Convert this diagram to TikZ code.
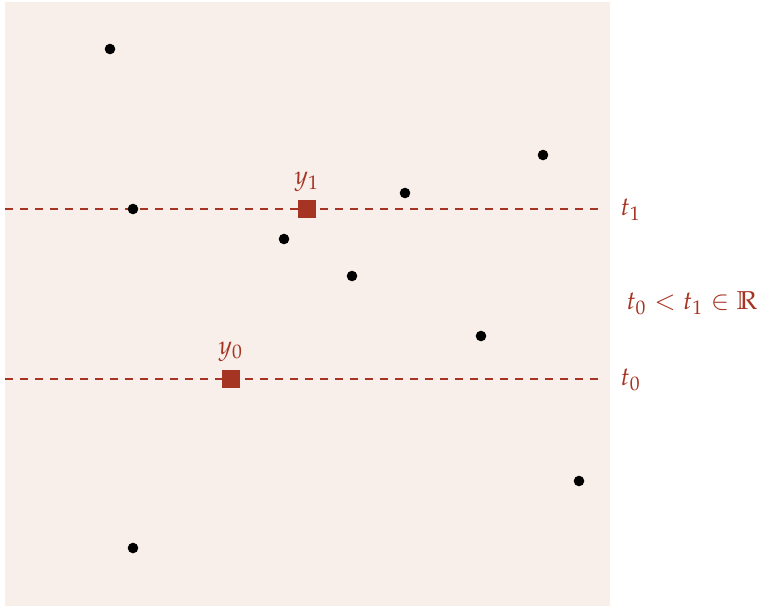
\documentclass[tikz,border=0pt]{standalone}
\usepackage{amssymb}
\usepackage{mathpazo}
\usepackage{tikz}
\usetikzlibrary{calc}
\usetikzlibrary{positioning}

\definecolor{rust}{RGB}{166,52,34}
\definecolor{blush}{RGB}{249,239,234}

\begin{document}
\begin{tikzpicture}[x=0.34pt, y=-0.34pt,
		every node/.style={font=\fontsize{8.8}{10}\selectfont},
		pt/.style={circle, fill=black, inner sep=0pt, minimum size=3.6pt},
		sq/.style={rectangle, fill=rust, inner sep=0pt, minimum size=6.2pt},
		lbl/.style={text=rust, inner sep=1pt},
		cut/.style={rust, line width=0.5pt, dash pattern=on 2.8pt off 2.3pt}]
		\useasboundingbox (0,0) rectangle (760,607);
		\fill[blush] (5,2) rectangle (610,606);
		% level lines
		\coordinate (a1) at (5,209);
		\coordinate (b1) at (605,209);
		\coordinate (a0) at (5,379);
		\coordinate (b0) at (605,379);
		\draw[cut] (a1) -- (b1);
		\draw[cut] (a0) -- (b0);
		\node[lbl, anchor=west] (t1) at (617,210) {$t_1$};
		\node[lbl, anchor=west] (t0) at (617,380) {$t_0$};
		\node[lbl] (rel) at (692,303) {$t_0 < t_1 \in \mathbb{R}$};
		% sample points
		\node[pt] (p1) at (110,49) {};
		\node[pt] (p2) at (133,209) {};
		\node[pt] (p3) at (405,193) {};
		\node[pt] (p4) at (543,155) {};
		\node[pt] (p5) at (284,239) {};
		\node[pt] (p6) at (352,276) {};
		\node[pt] (p7) at (481,336) {};
		\node[pt] (p8) at (579,481) {};
		\node[pt] (p9) at (133,548) {};
		% quantiles
		\node[sq] (y1) at (307,209) {};
		\node[sq] (y0) at (231,379) {};
		\node[lbl, above=1.5pt of y1] (y1l) {$y_1$};
		\node[lbl, above=1.5pt of y0] (y0l) {$y_0$};
	\end{tikzpicture}
\end{document}
